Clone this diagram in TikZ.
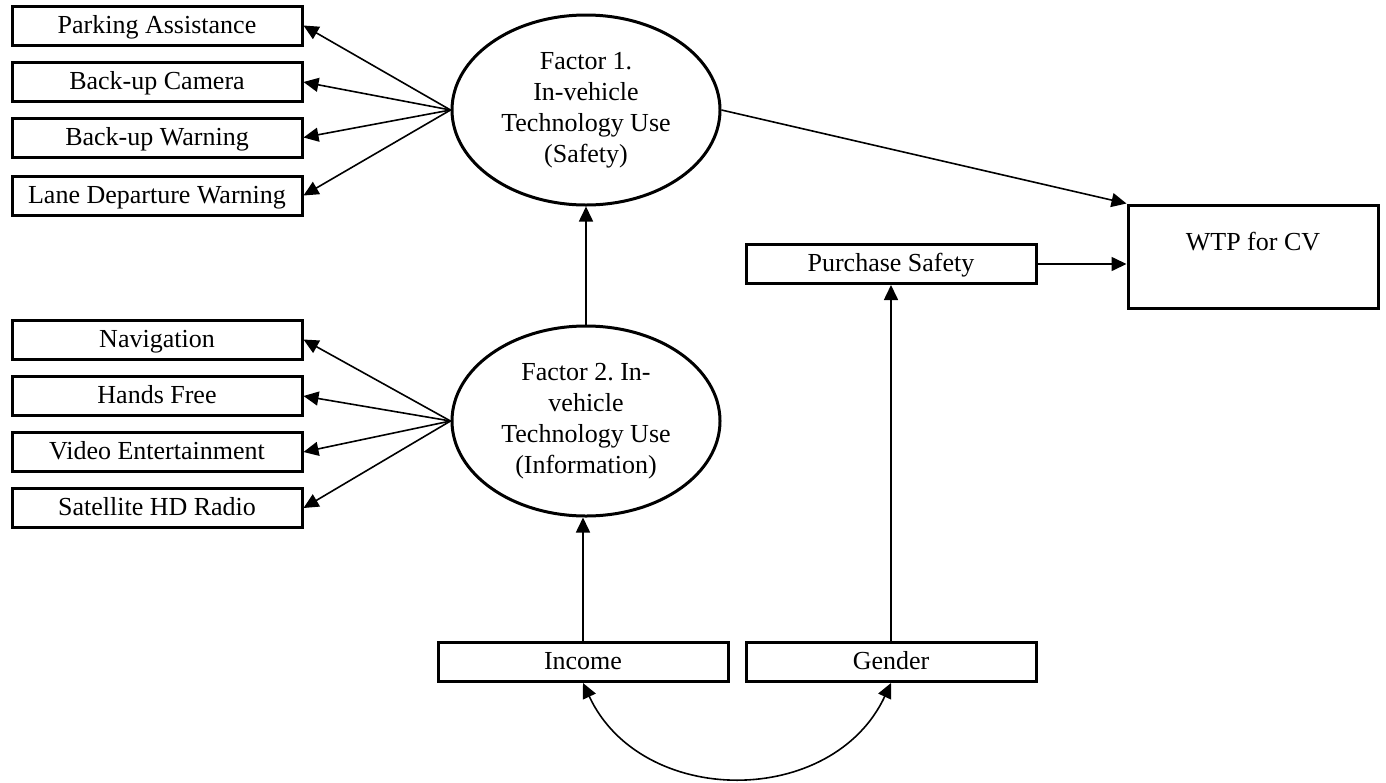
\documentclass[tikz,border=0pt]{standalone}
\usepackage{fontspec}
\setmainfont{Liberation Serif}
\usetikzlibrary{arrows.meta, calc, shapes.geometric}
\frenchspacing

\begin{document}
\begin{tikzpicture}[x=0.5pt, y=-0.5pt, font=\fontsize{13}{15.5}\selectfont,
    box/.style={draw, line width=1.5pt, minimum width=145pt, minimum height=19.5pt, inner sep=0pt, text height=10pt, text depth=2.5pt},
    factor/.style={draw, ellipse, line width=1.5pt, minimum width=134pt, minimum height=95pt, inner sep=0pt, align=center},
    arr/.style={-{Triangle[length=7.5pt, width=7pt]}, line width=0.8pt}]
    \useasboundingbox (0,0) rectangle (1386,782);
    \node[box] (PA) at (157, 25.5) {Parking Assistance};
    \node[box] (BC) at (157, 82) {Back-up Camera};
    \node[box] (BW) at (157, 137.5) {Back-up Warning};
    \node[box] (LD) at (157, 195.5) {Lane Departure Warning};
    \node[box] (NA) at (157, 339.5) {Navigation};
    \node[box] (HF) at (157, 396) {Hands Free};
    \node[box] (VE) at (157, 452) {Video Entertainment};
    \node[box] (SR) at (157, 508) {Satellite HD Radio};
    \node[factor] (F1) at (586, 110) {Factor 1.\\In-vehicle\\Technology Use\\(Safety)};
    \node[factor] (F2) at (586, 421) {Factor 2. In-\\vehicle\\Technology Use\\(Information)};
    \node[box] (PS) at (891, 264) {Purchase Safety};
    \node[box] (IN) at (583, 662) {Income};
    \node[box] (GE) at (891, 662) {Gender};
    \node[draw, line width=1.5pt, minimum width=125pt, minimum height=51.5pt, align=center] (WTP) at (1253, 256.5) {WTP for CV\\~};
    \foreach \b in {PA, BC, BW, LD} \draw[arr] (F1.west) -- (\b.east);
    \foreach \b in {NA, HF, VE, SR} \draw[arr] (F2.west) -- (\b.east);
    \draw[arr] (F2.north) -- (F1.south);
    \draw[arr] (F1.east) -- (WTP.north west);
    \draw[arr] (PS.east) -- (PS.east -| WTP.west);
    \draw[arr] (IN.north) -- (IN.north |- F2.south);
    \draw[arr] (GE.north) -- (PS.south);
    % income and gender are correlated
    \draw[arr, {Triangle[length=7.5pt, width=7pt]}-{Triangle[length=7.5pt, width=7pt]}] (IN.south) to[out=-65, in=-115, looseness=1.15] (GE.south);
\end{tikzpicture}
\end{document}
